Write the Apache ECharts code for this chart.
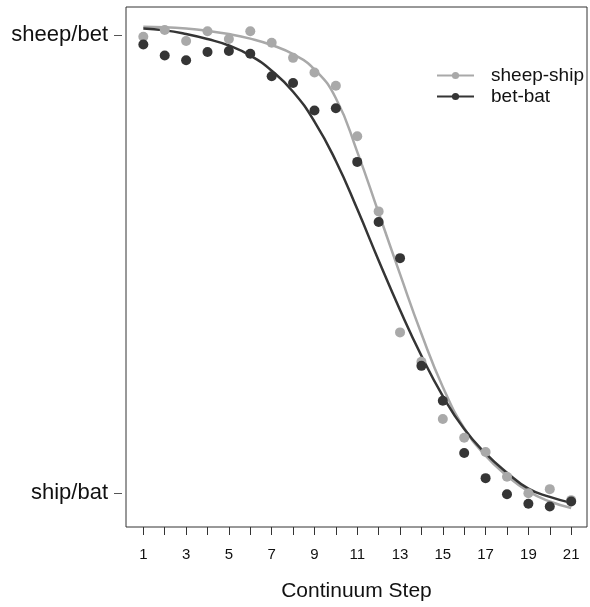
<!DOCTYPE html>
<html>
<head>
<meta charset="utf-8">
<script src="https://cdn.jsdelivr.net/npm/echarts@6/dist/echarts.min.js"></script>
<style>
  html, body { margin: 0; padding: 0; background: #fff; }
  #main { width: 590px; height: 607px; }
</style>
</head>
<body>
<div id="main"></div>
<script>
// continuum steps
var steps = [1, 2, 3, 4, 5, 6, 7, 8, 9, 10, 11, 12, 13, 14, 15, 16, 17, 18, 19, 20, 21];
var oddSteps = [1, 3, 5, 7, 9, 11, 13, 15, 17, 19, 21];

// observed proportions (1 = sheep/bet, 0 = ship/bat)
var sheepShipPts = [0.996, 1.011, 0.987, 1.008, 0.991, 1.008, 0.983, 0.950, 0.918, 0.889, 0.779,
                    0.615, 0.351, 0.287, 0.162, 0.121, 0.090, 0.036, 0.000, 0.009, -0.015];
var betBatPts = [0.979, 0.955, 0.945, 0.963, 0.965, 0.959, 0.910, 0.895, 0.835, 0.840, 0.723,
                 0.592, 0.513, 0.278, 0.202, 0.088, 0.033, -0.002, -0.023, -0.029, -0.018];

// fitted curves at each step
var sheepShipFit = [1.018, 1.017, 1.014, 1.009, 1.002, 0.992, 0.978, 0.958, 0.925, 0.862, 0.745,
                    0.612, 0.478, 0.348, 0.232, 0.142, 0.082, 0.038, 0.004, -0.018, -0.032];
var betBatFit = [1.014, 1.010, 1.002, 0.991, 0.977, 0.955, 0.922, 0.876, 0.811, 0.725, 0.620,
                 0.508, 0.400, 0.300, 0.212, 0.140, 0.087, 0.045, 0.010, -0.008, -0.021];

var yTicks = [0, 1];
var yNames = { 0: 'ship/bat', 1: 'sheep/bet' };

var lightCol = '#a9a9a9';
var darkCol = '#353535';

function pairs(xs, ys) {
    return xs.map(function (x, i) { return [x, ys[i]]; });
}

var myChart = echarts.init(document.getElementById('main'));
var font = 'Liberation Sans, Arial, Helvetica, sans-serif';

var option = {
    animation: false,
    textStyle: { fontFamily: font },
    grid: {
        left: 126, right: 3, top: 7, bottom: 80,
        show: true, borderColor: '#333', borderWidth: 1
    },
    legend: {
        orient: 'vertical',
        left: 431, top: 61,
        itemWidth: 37, itemHeight: 9,
        itemGap: 2,
        textStyle: { fontSize: 19, color: '#111', fontFamily: font, padding: [0, 0, 0, 12] },
        data: ['sheep-ship', 'bet-bat']
    },
    xAxis: {
        type: 'value',
        min: 0.19, max: 21.74,
        name: 'Continuum Step',
        nameLocation: 'middle',
        nameGap: 54,
        nameTextStyle: { fontSize: 21, color: '#111', fontFamily: font },
        axisLine: { show: false, onZero: false },
        splitLine: { show: false },
        axisTick: {
            show: true, length: 8, inside: false,
            lineStyle: { color: '#333', width: 1 },
            customValues: steps
        },
        axisLabel: {
            fontSize: 15, color: '#111', margin: 20,
            customValues: oddSteps
        }
    },
    yAxis: {
        type: 'value',
        min: -0.0736, max: 1.061,
        offset: 4,
        axisLine: { show: false, onZero: false },
        splitLine: { show: false },
        axisTick: {
            show: true, length: 8,
            lineStyle: { color: '#555', width: 1 },
            customValues: yTicks
        },
        axisLabel: {
            fontSize: 22, color: '#111', margin: 14,
            customValues: yTicks,
            formatter: function (v) { return yNames[Math.round(v)]; }
        }
    },
    series: [
        {
            name: 'sheep-ship', type: 'line',
            data: pairs(steps, sheepShipFit),
            smooth: 0.5,
            symbol: 'circle', symbolSize: 8, showSymbol: false,
            lineStyle: { color: lightCol, width: 2.5 },
            itemStyle: { color: lightCol },
            z: 2
        },
        {
            name: 'bet-bat', type: 'line',
            data: pairs(steps, betBatFit),
            smooth: 0.5,
            symbol: 'circle', symbolSize: 8, showSymbol: false,
            lineStyle: { color: darkCol, width: 2.5 },
            itemStyle: { color: darkCol },
            z: 2
        },
        {
            name: 'sheep-ship', type: 'scatter',
            data: pairs(steps, sheepShipPts),
            symbolSize: 10,
            itemStyle: { color: lightCol, opacity: 1 },
            z: 3
        },
        {
            name: 'bet-bat', type: 'scatter',
            data: pairs(steps, betBatPts),
            symbolSize: 10,
            itemStyle: { color: darkCol, opacity: 1 },
            z: 4
        }
    ]
};

myChart.setOption(option);
</script>
</body>
</html>
